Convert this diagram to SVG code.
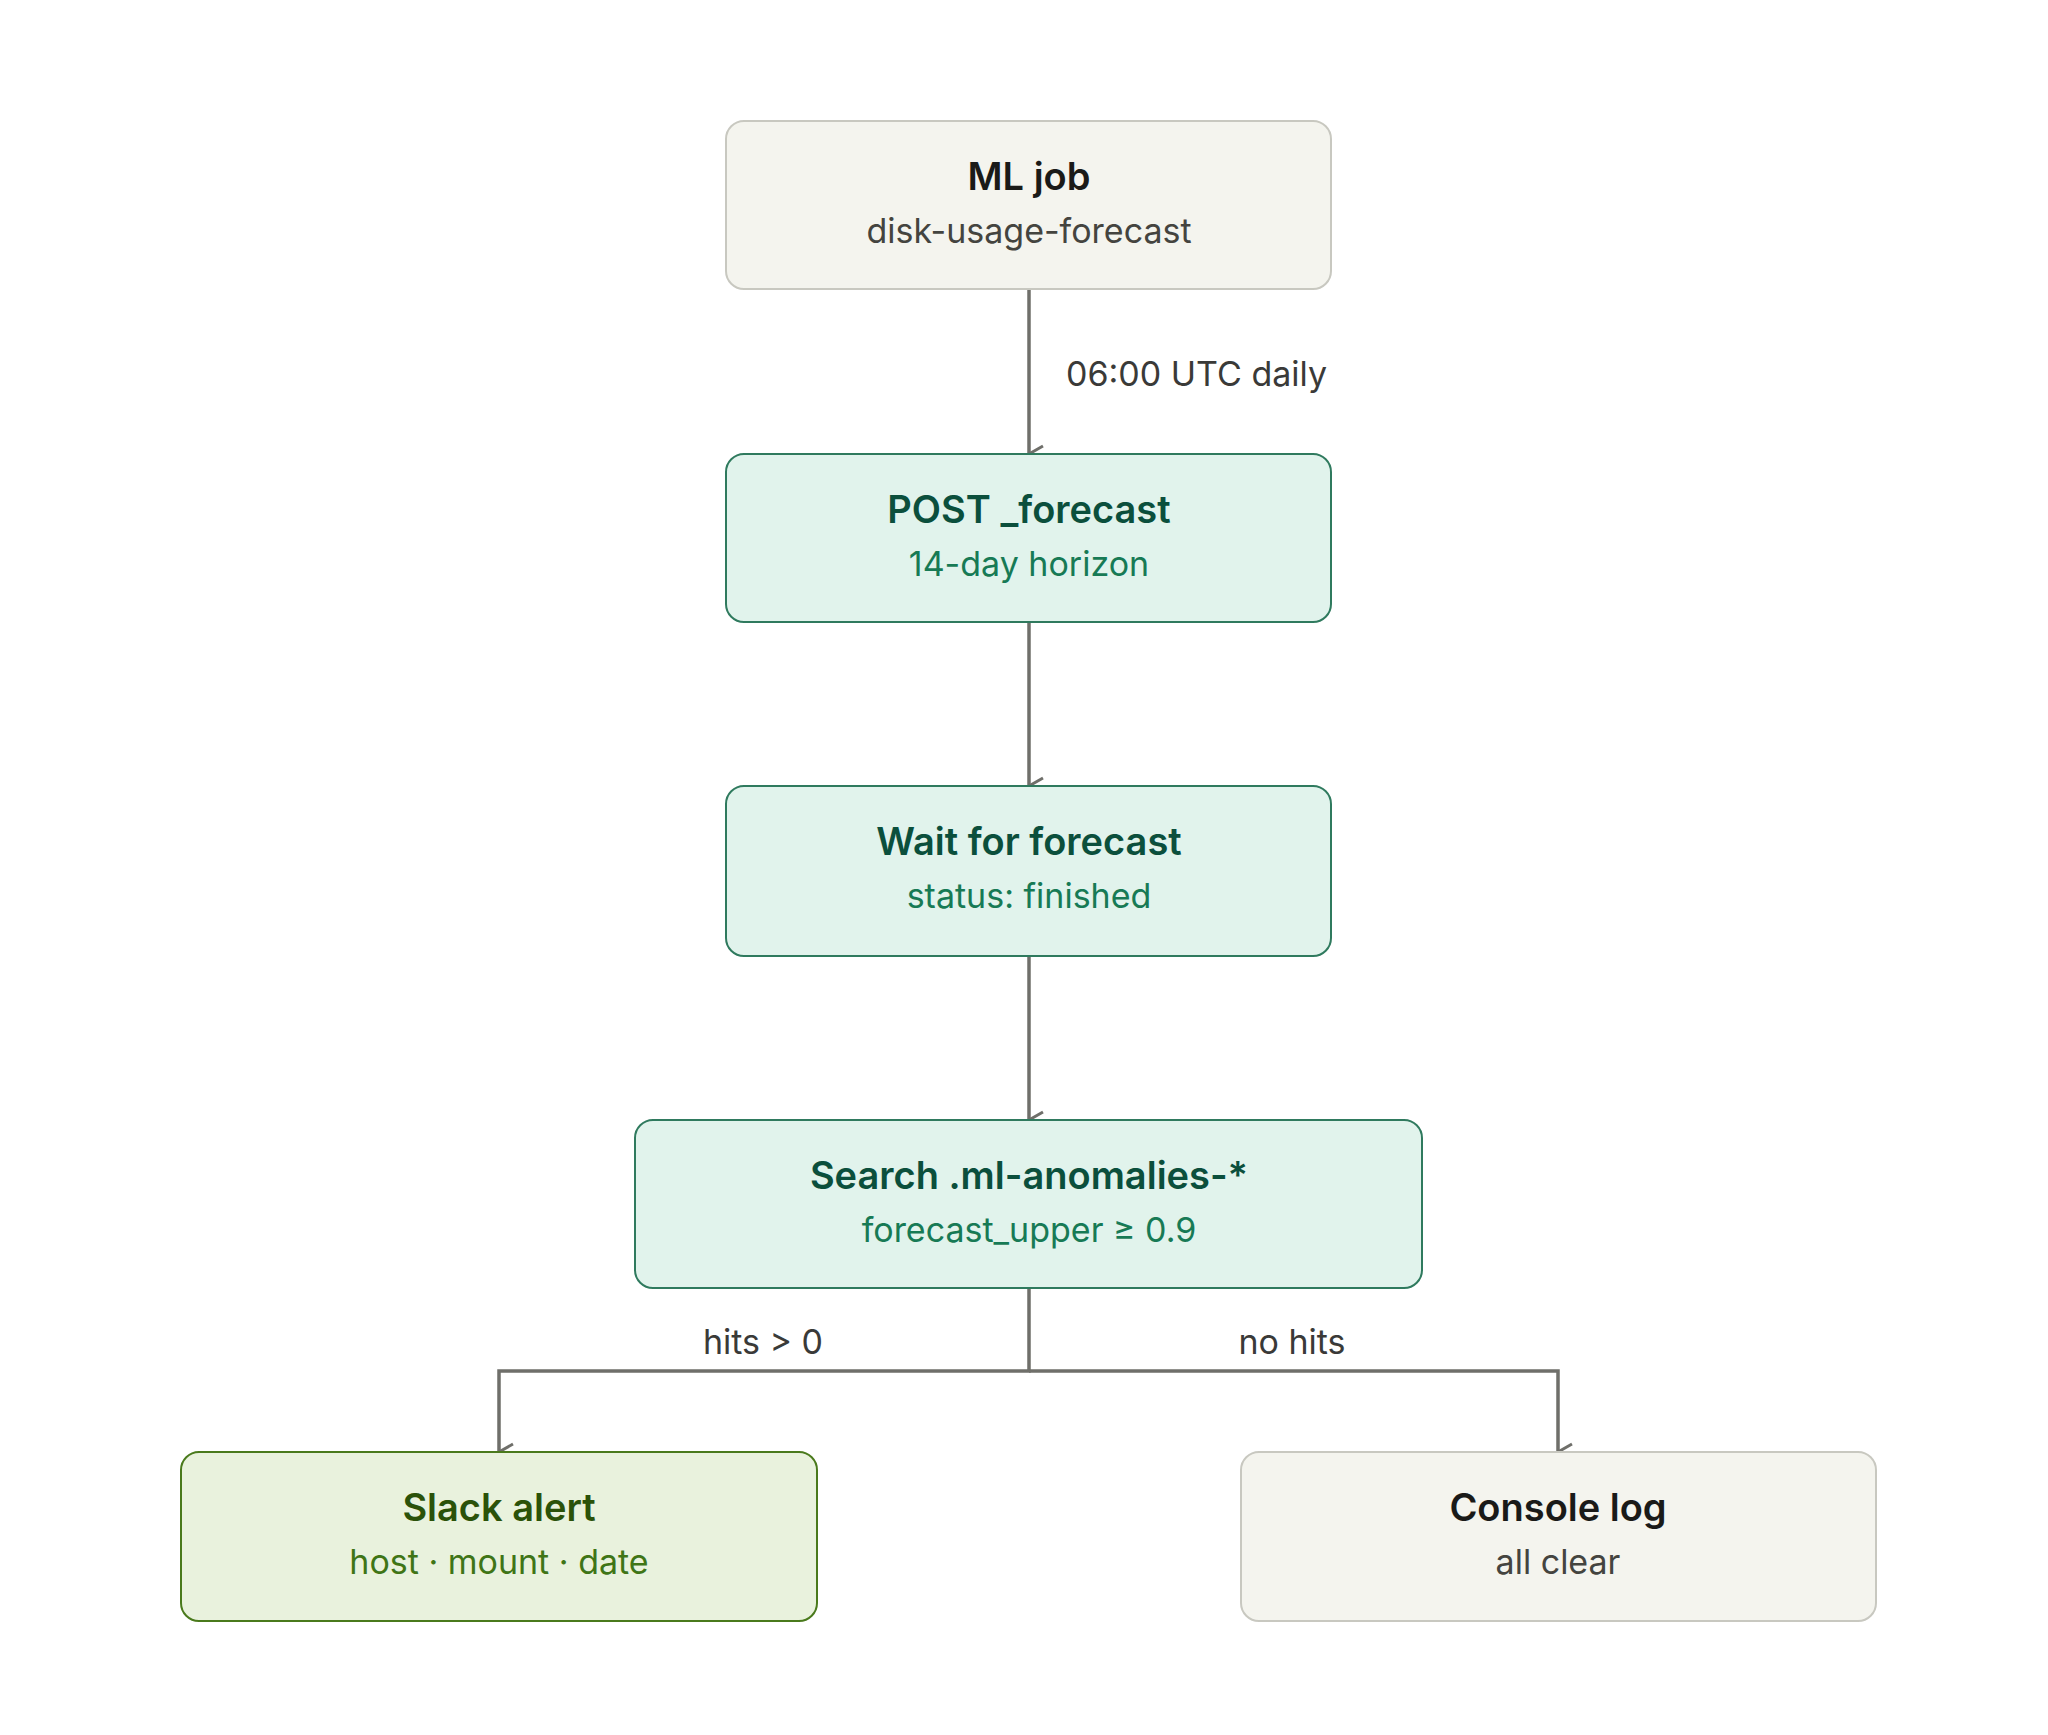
<svg xmlns="http://www.w3.org/2000/svg" width="2048" height="1735" viewBox="0 0 2048 1735">
<defs>
<marker id="ah" markerWidth="20" markerHeight="20" refX="10" refY="17" orient="auto-start-reverse" markerUnits="userSpaceOnUse" viewBox="0 0 20 20">
<path d="M2 3 L10 17 L18 3" fill="none" stroke="#6f6f6a" stroke-width="3"/>
</marker>
<style>
text{font-family:Inter,"Noto Sans",sans-serif;text-anchor:middle}
.t{font-size:38px;font-weight:600}
.s{font-size:34px}
.l{font-size:34px;fill:#3a3a38}
.g rect{fill:#f4f4ee;stroke:#c8c8c0;stroke-width:2}
.g .t{fill:#1a1a18}.g .s{fill:#44443f}
.m rect{fill:#e1f3ec;stroke:#2f7a5e;stroke-width:2}
.m .t{fill:#0b4f3c}.m .s{fill:#177a55}
.k rect{fill:#e9f2dd;stroke:#4a7a1c;stroke-width:2}
.k .t{fill:#2b5209}.k .s{fill:#3f7516}
.c{fill:none;stroke:#6f6f6a;stroke-width:3.5;marker-end:url(#ah)}
</style>
</defs>
<rect width="2048" height="1735" fill="#fff"/>
<g id="connectors">
<path class="c" d="M1029 289V454"/>
<path class="c" d="M1029 622V786"/>
<path class="c" d="M1029 956V1120"/>
<path class="c" d="M1029 1288V1371H499V1452"/>
<path class="c" d="M1029 1371H1558V1452"/>
<text class="l" x="1066" y="386" style="text-anchor:start">06:00 UTC daily</text>
<text class="l" x="763" y="1354">hits &gt; 0</text>
<text class="l" x="1292" y="1354">no hits</text>
</g>
<g id="ml-job" class="g"><rect x="726" y="121" width="605" height="168" rx="18"/><text class="t" x="1029" y="190">ML job</text><text class="s" x="1029" y="243">disk-usage-forecast</text></g>
<g id="post-forecast" class="m"><rect x="726" y="454" width="605" height="168" rx="18"/><text class="t" x="1029" y="523">POST _forecast</text><text class="s" x="1029" y="576">14-day horizon</text></g>
<g id="wait" class="m"><rect x="726" y="786" width="605" height="170" rx="18"/><text class="t" x="1029" y="855">Wait for forecast</text><text class="s" x="1029" y="908">status: finished</text></g>
<g id="search" class="m"><rect x="635" y="1120" width="787" height="168" rx="18"/><text class="t" x="1029" y="1189">Search .ml-anomalies-*</text><text class="s" x="1029" y="1242">forecast_upper ≥ 0.9</text></g>
<g id="slack" class="k"><rect x="181" y="1452" width="636" height="169" rx="18"/><text class="t" x="499" y="1521">Slack alert</text><text class="s" x="499" y="1574">host · mount · date</text></g>
<g id="console" class="g"><rect x="1241" y="1452" width="635" height="169" rx="18"/><text class="t" x="1558" y="1521">Console log</text><text class="s" x="1558" y="1574">all clear</text></g>
</svg>
